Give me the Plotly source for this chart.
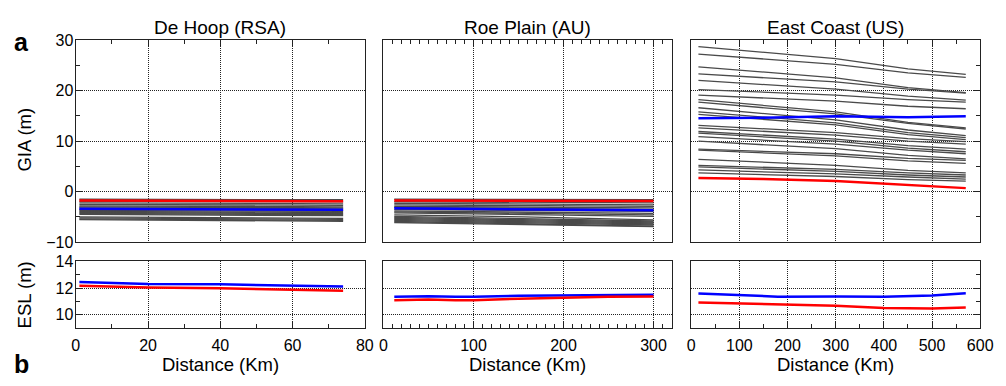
import plotly.graph_objects as go

# ---------------- data ----------------
# De Hoop (RSA) GIA (m)
dh_x = [1, 37, 74]
dh_gray = [
    [-1.5, -1.55, -1.6], [-1.9, -1.95, -2.0], [-2.2, -2.3, -2.4], [-2.5, -2.6, -2.7],
    [-2.8, -2.9, -3.0], [-3.0, -3.1, -3.2], [-3.2, -3.3, -3.4], [-3.5, -3.6, -3.7],
    [-3.7, -3.8, -3.9], [-3.9, -4.0, -4.15], [-4.1, -4.2, -4.35], [-4.3, -4.4, -4.55],
    [-4.5, -4.6, -4.75], [-5.0, -5.15, -5.3], [-5.2, -5.35, -5.5], [-5.4, -5.55, -5.7],
    [-5.55, -5.7, -5.85],
]
dh_red = [-1.75, -1.82, -1.9]
dh_blue = [-3.4, -3.5, -3.6]

# Roe Plain (AU) GIA (m)
rp_x = [12, 156, 300]
rp_gray = [
    [-1.5, -1.5, -1.6], [-2.0, -2.1, -2.2], [-2.3, -2.4, -2.6], [-2.6, -2.7, -2.9],
    [-2.9, -3.0, -3.2], [-3.1, -3.3, -3.5], [-3.5, -3.7, -3.9], [-3.8, -4.0, -4.3],
    [-4.0, -4.3, -4.6], [-4.2, -4.5, -4.9], [-4.6, -5.0, -5.6], [-4.9, -5.3, -5.8],
    [-5.1, -5.5, -6.0], [-5.3, -5.7, -6.2], [-5.5, -5.9, -6.4], [-5.7, -6.1, -6.6],
    [-5.9, -6.3, -6.8], [-6.1, -6.5, -6.9],
]
rp_red = [-1.75, -1.8, -1.85]
rp_blue = [-3.3, -3.5, -3.7]

# East Coast (US) GIA (m)
ec_x = [15, 150, 300, 450, 570]
ec_gray = [
    [28.7, 27.6, 26.3, 24.3, 23.2], [27.2, 26.3, 25.2, 23.5, 22.6],
    [24.7, 23.7, 22.5, 20.6, 19.6], [23.3, 22.5, 21.7, 20.3, 19.5],
    [22.0, 21.2, 20.3, 18.9, 18.1], [20.2, 19.7, 19.1, 18.2, 17.7],
    [19.1, 18.6, 17.9, 16.9, 16.4], [18.2, 17.1, 15.8, 13.7, 12.6],
    [17.7, 16.6, 15.4, 13.5, 12.4], [16.6, 15.5, 14.2, 12.2, 11.1],
    [15.8, 14.8, 13.6, 11.7, 10.7], [15.3, 14.3, 13.2, 11.3, 10.3],
    [13.1, 12.5, 11.7, 10.5, 9.9], [12.6, 12.0, 11.2, 10.0, 9.4],
    [11.9, 11.2, 10.4, 9.1, 8.4], [11.6, 10.9, 10.0, 8.6, 7.9],
    [10.9, 10.2, 9.4, 8.2, 7.5], [10.0, 9.3, 8.5, 7.2, 6.5],
    [8.4, 8.0, 7.5, 6.6, 6.2], [8.2, 7.7, 7.1, 6.1, 5.6],
    [6.4, 5.9, 5.2, 4.2, 3.7], [5.2, 4.8, 4.4, 3.7, 3.3],
    [4.9, 4.5, 4.0, 3.3, 2.9], [4.3, 3.9, 3.5, 2.9, 2.5],
    [3.7, 3.4, 3.0, 2.4, 2.1],
]
ec_red = [2.7, 2.5, 2.1, 1.3, 0.7]
ec_blue = [14.5, 14.6, 14.9, 14.7, 14.9]

# ESL (m)
dh_esl_x = [1, 20, 40, 60, 74]
dh_esl_blue = [12.45, 12.3, 12.28, 12.2, 12.12]
dh_esl_red = [12.17, 12.05, 11.98, 11.88, 11.81]

rp_esl_x = [12, 50, 80, 100, 150, 200, 250, 300]
rp_esl_blue = [11.36, 11.4, 11.35, 11.35, 11.42, 11.45, 11.5, 11.5]
rp_esl_red = [11.1, 11.15, 11.1, 11.1, 11.2, 11.28, 11.35, 11.38]

ec_esl_x = [15, 100, 180, 300, 400, 500, 570]
ec_esl_blue = [11.6, 11.45, 11.36, 11.38, 11.36, 11.45, 11.62]
ec_esl_red = [10.93, 10.86, 10.75, 10.69, 10.52, 10.47, 10.55]

titles = ["De Hoop (RSA)", "Roe Plain (AU)", "East Coast (US)"]

# ---------------- styling ----------------
W, H = 1006, 386
FONT = "Liberation Sans, Arial, sans-serif"
GRAY = "#4a4a4a"
RED = "#ff0000"
BLUE = "#0000ff"
TICKSZ = 16
LABSZ = 18.5

def dx(a, b):
    return [a / W, b / W]

def dy(top, bottom):
    return [1 - bottom / H, 1 - top / H]

fig = go.Figure()

def add_line(x, y, color, width, xa, ya):
    fig.add_trace(go.Scatter(x=x, y=y, mode="lines", line=dict(color=color, width=width),
                             xaxis=xa, yaxis=ya, showlegend=False, hoverinfo="skip"))

panels = [
    (dh_x, dh_gray, dh_red, dh_blue, dh_esl_x, dh_esl_blue, dh_esl_red),
    (rp_x, rp_gray, rp_red, rp_blue, rp_esl_x, rp_esl_blue, rp_esl_red),
    (ec_x, ec_gray, ec_red, ec_blue, ec_esl_x, ec_esl_blue, ec_esl_red),
]
for i, (gx, gray, red, blue, ex, eb, er) in enumerate(panels):
    xa, ya = f"x{i+1}", f"y{i+1}"
    for g in gray:
        add_line(gx, g, GRAY, 1.3, xa, ya)
    add_line(gx, red, RED, 2.5, xa, ya)
    add_line(gx, blue, BLUE, 2.5, xa, ya)
    xb, yb = f"x{i+4}", f"y{i+4}"
    add_line(ex, eb, BLUE, 2.5, xb, yb)
    add_line(ex, er, RED, 2.5, xb, yb)

xdoms = [dx(73, 367), dx(386, 679), dx(699, 993)]
top_dom = dy(33.5, 245)
bot_dom = dy(265, 335)
xranges = [[0, 80], [0, 320], [0, 600]]
xdt = [20, 100, 100]
xminor = [10, 10, 50]

common = dict(showline=True, linecolor="#222", linewidth=1.4, mirror=True,
              showgrid=True, gridcolor="#222", gridwidth=1, griddash="1px,1px",
              zeroline=False, ticks="inside", ticklen=6, tickcolor="#222",
              ticklabeloverflow="allow",
              tickfont=dict(family=FONT, size=TICKSZ, color="black"))

lay = {}
for i in range(3):
    lay[f"xaxis{i+1}"] = dict(common, domain=xdoms[i], range=xranges[i], dtick=xdt[i], tick0=0,
                              anchor=f"y{i+1}", side="top", showticklabels=False,
                              minor=dict(ticks="inside", dtick=xminor[i], ticklen=4, tickcolor="#222", showgrid=False))
    lay[f"xaxis{i+4}"] = dict(common, domain=xdoms[i], range=xranges[i], dtick=xdt[i], tick0=0,
                              anchor=f"y{i+4}", side="bottom", showticklabels=True, ticklabelstandoff=2,
                              minor=dict(ticks="inside", dtick=xminor[i], ticklen=4, tickcolor="#222", showgrid=False))
    ticks_on = i != 1
    side = "right" if i == 2 else "left"
    lay[f"yaxis{i+1}"] = dict(common, domain=top_dom, range=[-10, 30], dtick=10, tick0=0,
                              anchor=f"x{i+1}", side=side, showticklabels=(i == 0),
                              ticks="inside" if ticks_on else "", ticklabelstandoff=-2,
                              minor=dict(ticks="inside" if ticks_on else "", dtick=5, ticklen=4,
                                         tickcolor="#222", showgrid=False))
    lay[f"yaxis{i+4}"] = dict(common, domain=bot_dom, range=[9, 14], dtick=2, tick0=10,
                              anchor=f"x{i+4}", side=side, showticklabels=(i == 0),
                              ticks="inside" if ticks_on else "", ticklabelstandoff=-2,
                              minor=dict(ticks="inside" if ticks_on else "", dtick=1, ticklen=4,
                                         tickcolor="#222", showgrid=False))

ann = []
centers = [220, 532.5, 846]
for i in range(3):
    ann.append(dict(text=titles[i], x=centers[i] / W, y=1 - 20 / H, xref="paper", yref="paper",
                    xanchor="center", yanchor="middle", showarrow=False,
                    font=dict(family=FONT, size=19, color="black")))
    ann.append(dict(text="Distance (Km)", x=centers[i] / W, y=1 - 373 / H, xref="paper", yref="paper",
                    xanchor="center", yanchor="middle", showarrow=False,
                    font=dict(family=FONT, size=LABSZ, color="black")))
ann.append(dict(text="GIA (m)", x=21 / W, y=1 - 138 / H, xref="paper", yref="paper", textangle=-90,
                xanchor="center", yanchor="middle", showarrow=False,
                font=dict(family=FONT, size=LABSZ, color="black")))
ann.append(dict(text="ESL (m)", x=21 / W, y=1 - 300 / H, xref="paper", yref="paper", textangle=-90,
                xanchor="center", yanchor="middle", showarrow=False,
                font=dict(family=FONT, size=LABSZ, color="black")))
ann.append(dict(text="<b>a</b>", x=17.5 / W, y=1 - 36 / H, xref="paper", yref="paper",
                xanchor="center", yanchor="middle", showarrow=False,
                font=dict(family=FONT, size=25, color="black")))
ann.append(dict(text="<b>b</b>", x=17.5 / W, y=1 - 372 / H, xref="paper", yref="paper",
                xanchor="center", yanchor="middle", showarrow=False,
                font=dict(family=FONT, size=25, color="black")))

fig.update_layout(width=W, height=H, margin=dict(l=0, r=0, t=0, b=0), autosize=False,
                  paper_bgcolor="white", plot_bgcolor="white", showlegend=False,
                  annotations=ann, font=dict(family=FONT), **lay)

fig.write_html("out.html", config={"displayModeBar": False},
               post_script="document.body.style.margin='0';document.body.style.overflow='hidden';")
